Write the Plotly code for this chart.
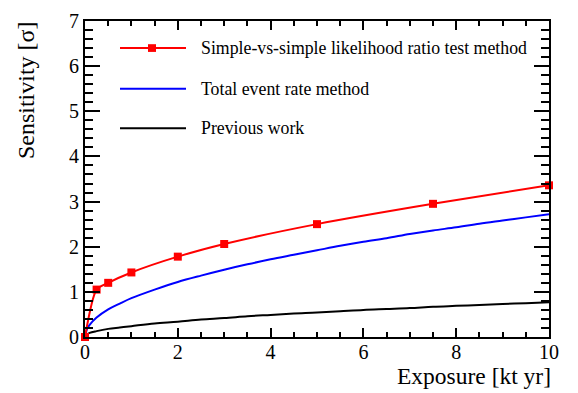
import plotly.graph_objects as go

# Data
llr_x = [0, 0.25, 0.5, 1, 2, 3, 5, 7.5, 10]
llr_y = [0, 1.05, 1.20, 1.43, 1.78, 2.06, 2.50, 2.95, 3.36]

curve_x = [0, 0.05, 0.1, 0.25, 0.5, 0.75, 1, 1.5, 2, 2.5, 3, 3.5, 4, 4.5, 5,
           5.5, 6, 6.5, 7, 7.5, 8, 8.5, 9, 9.5, 10]
rate_y = [0, 0.19, 0.27, 0.43, 0.61, 0.74, 0.86, 1.05, 1.22, 1.36, 1.49, 1.61,
          1.72, 1.82, 1.92, 2.02, 2.11, 2.19, 2.28, 2.36, 2.43, 2.51, 2.58, 2.65, 2.72]
prev_y = [0, 0.06, 0.09, 0.13, 0.18, 0.21, 0.24, 0.30, 0.34, 0.39, 0.42, 0.46,
          0.49, 0.52, 0.54, 0.57, 0.60, 0.62, 0.64, 0.67, 0.69, 0.71, 0.73, 0.75, 0.77]

legend_labels = ["Simple-vs-simple likelihood ratio test method",
                 "Total event rate method",
                 "Previous work"]
legend_colors = ["#ff0000", "#0000ff", "#000000"]

FONT = "Liberation Serif, Times New Roman, serif"

fig = go.Figure()
fig.add_trace(go.Scatter(x=curve_x, y=prev_y, mode="lines",
                         line=dict(color="#000000", width=2, shape="spline"),
                         showlegend=False))
fig.add_trace(go.Scatter(x=curve_x, y=rate_y, mode="lines",
                         line=dict(color="#0000ff", width=2, shape="spline"),
                         showlegend=False))
fig.add_trace(go.Scatter(x=llr_x, y=llr_y, mode="lines+markers",
                         line=dict(color="#ff0000", width=2, shape="spline", smoothing=0.7),
                         marker=dict(symbol="square", size=8, color="#ff0000"),
                         cliponaxis=False, showlegend=False))

axis_common = dict(showline=True, linecolor="black", linewidth=2, mirror="allticks",
                   ticks="inside", tickcolor="black", tickwidth=2,
                   showgrid=False, zeroline=False,
                   tickfont=dict(family=FONT, size=20, color="black"))

fig.update_xaxes(range=[0, 10], dtick=2, tick0=0, ticklen=9, ticklabelstandoff=-4,
                 minor=dict(dtick=0.5, ticklen=5, tickcolor="black", ticks="inside", tickwidth=1.5),
                 **axis_common)
fig.update_yaxes(range=[0, 7], dtick=1, tick0=0, ticklen=15,
                 minor=dict(dtick=0.2, ticklen=8, tickcolor="black", ticks="inside", tickwidth=1.5),
                 **axis_common)

# Legend drawn manually (long line samples, wide spacing)
L, W, T, H = 85, 464, 10, 327
def px(xp):
    return (xp - L) / W
def py(yp):
    return (T + H - yp) / H

rows = [38, 80, 121]
shapes = []
annotations = []
for lab, col, yr in zip(legend_labels, legend_colors, rows):
    shapes.append(dict(type="line", xref="paper", yref="paper",
                       x0=px(120), x1=px(186), y0=py(yr), y1=py(yr),
                       line=dict(color=col, width=2)))
    annotations.append(dict(text=lab, xref="paper", yref="paper", x=px(199), y=py(yr),
                            xanchor="left", yanchor="middle", showarrow=False,
                            font=dict(family=FONT, size=17.8, color="black")))
shapes.append(dict(type="rect", xref="paper", yref="paper",
                   x0=px(148), x1=px(156), y0=py(42), y1=py(34),
                   fillcolor="#ff0000", line=dict(width=0)))

annotations.append(dict(text="Exposure [kt yr]", xref="paper", yref="paper",
                        x=px(553), y=py(393), xanchor="right", yanchor="bottom",
                        showarrow=False, font=dict(family=FONT, size=23.5, color="black")))
annotations.append(dict(text="Sensitivity [σ]", xref="paper", yref="paper",
                        x=px(26), y=py(8), xanchor="center", yanchor="top", textangle=-90,
                        showarrow=False, font=dict(family=FONT, size=24, color="black")))

fig.update_layout(width=578, height=393,
                  margin=dict(l=85, r=29, t=10, b=56),
                  plot_bgcolor="white", paper_bgcolor="white",
                  shapes=shapes, annotations=annotations, showlegend=False)

fig.write_html("out.html")
